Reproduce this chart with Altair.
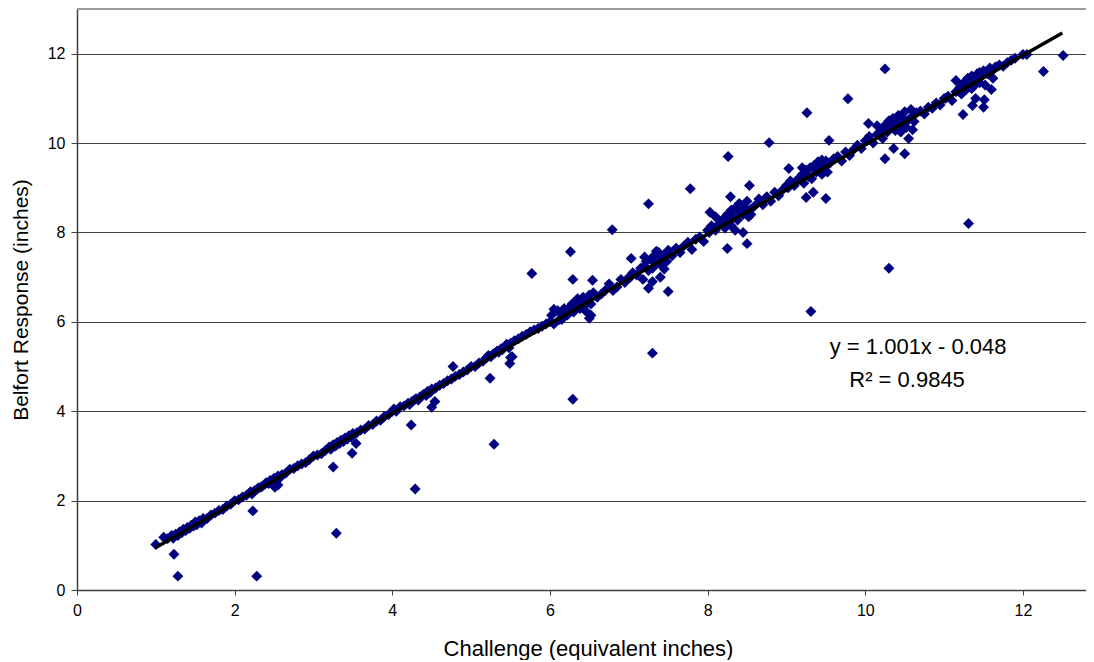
import altair as alt
import pandas as pd

# ---- data ----
challenge = [
    1.00, 1.10, 1.15, 1.20, 1.22, 1.25, 1.28, 1.30, 1.33, 1.35, 1.38, 1.40, 1.43, 1.45, 1.48, 1.50, 1.52, 1.55, 1.58, 1.60, 1.65, 1.70, 1.75, 1.80, 1.85, 1.90, 1.95, 2.00,
    1.23, 1.28,
    2.05, 2.10, 2.15, 2.20, 2.22, 2.25, 2.28, 2.30, 2.33, 2.35, 2.38, 2.40, 2.43, 2.45, 2.48, 2.50, 2.52, 2.55, 2.58, 2.60, 2.65, 2.70, 2.75, 2.80, 2.85, 2.90, 2.95, 3.00,
    2.28, 2.23, 2.51, 2.55,
    3.05, 3.10, 3.15, 3.20, 3.22, 3.25, 3.28, 3.30, 3.33, 3.35, 3.38, 3.40, 3.43, 3.45, 3.48, 3.50, 3.55, 3.60, 3.65, 3.70, 3.75, 3.80, 3.85, 3.90, 3.95, 4.00,
    3.25, 3.29, 3.49, 3.54,
    4.02, 4.05, 4.10, 4.15, 4.20, 4.22, 4.25, 4.28, 4.30, 4.33, 4.35, 4.38, 4.40, 4.43, 4.45, 4.48, 4.50, 4.55, 4.60, 4.65, 4.70, 4.75, 4.80, 4.85, 4.90, 4.95, 5.00,
    4.24, 4.29, 4.50, 4.54, 4.77,
    5.05, 5.10, 5.15, 5.20, 5.22, 5.25, 5.28, 5.30, 5.33, 5.35, 5.38, 5.40, 5.43, 5.45, 5.48, 5.50, 5.55, 5.60, 5.65, 5.70, 5.75, 5.80, 5.85, 5.90, 5.95, 6.00,
    5.77, 5.24, 5.29, 5.49, 5.50, 5.52,
    6.02, 6.05, 6.10, 6.12, 6.15, 6.18, 6.20, 6.22, 6.25, 6.28, 6.30, 6.32, 6.35, 6.38, 6.40, 6.42, 6.45, 6.48, 6.50, 6.52, 6.55, 6.60, 6.65, 6.70, 6.75, 6.80, 6.85, 6.90, 6.95, 7.00,
    6.26, 6.29, 6.29, 6.54, 6.50, 6.52, 6.05, 6.15, 6.35, 6.45,
    7.02, 7.05, 7.10, 7.15, 7.18, 7.20, 7.22, 7.25, 7.28, 7.30, 7.32, 7.35, 7.38, 7.40, 7.42, 7.45, 7.48, 7.50, 7.55, 7.60, 7.65, 7.70, 7.75, 7.80, 7.85, 7.90, 7.95, 8.00,
    7.03, 7.25, 7.30, 7.50, 7.25, 7.78, 6.79, 7.30, 7.40, 7.35, 7.45, 7.20,
    8.02, 8.05, 8.10, 8.15, 8.20, 8.22, 8.25, 8.28, 8.30, 8.32, 8.35, 8.38, 8.40, 8.42, 8.45, 8.48, 8.50, 8.52, 8.55, 8.60, 8.65, 8.70, 8.75, 8.80, 8.85, 8.90, 8.95, 9.00,
    8.26, 8.03, 8.25, 8.50, 8.53, 8.29, 8.45, 8.35, 8.78, 8.10, 8.40, 8.30, 8.55,
    9.02, 9.05, 9.10, 9.15, 9.20, 9.22, 9.25, 9.28, 9.30, 9.32, 9.35, 9.38, 9.40, 9.42, 9.45, 9.48, 9.50, 9.52, 9.55, 9.60, 9.65, 9.70, 9.75, 9.80, 9.85, 9.90, 9.95, 10.00,
    9.26, 9.03, 9.54, 9.50, 9.25, 9.34, 9.31, 9.78, 9.20, 9.40, 9.45,
    10.02, 10.05, 10.10, 10.15, 10.20, 10.22, 10.25, 10.28, 10.30, 10.32, 10.35, 10.38, 10.40, 10.42, 10.45, 10.48, 10.50, 10.52, 10.55, 10.58, 10.60, 10.62, 10.65, 10.70, 10.75, 10.80, 10.85, 10.90, 10.95, 11.00,
    10.25, 10.25, 10.50, 10.36, 10.04, 10.15, 10.30, 10.55, 10.60, 10.40, 10.45, 10.35,
    11.02, 11.05, 11.10, 11.15, 11.20, 11.22, 11.25, 11.28, 11.30, 11.32, 11.35, 11.38, 11.40, 11.42, 11.45, 11.48, 11.50, 11.52, 11.55, 11.58, 11.60, 11.62, 11.65, 11.70, 11.75, 11.80, 11.85, 11.90, 12.00,
    11.15, 11.24, 11.50, 11.36, 11.51, 11.31, 12.05, 12.26, 12.51, 11.40, 11.60, 11.45, 11.35,
]

response = [
    1.02, 1.18, 1.15, 1.22, 1.16, 1.25, 1.22, 1.30, 1.28, 1.36, 1.33, 1.40, 1.38, 1.45, 1.43, 1.52, 1.46, 1.55, 1.50, 1.60, 1.60, 1.68, 1.72, 1.78, 1.80, 1.88, 1.92, 2.00,
    0.80, 0.31,
    2.02, 2.08, 2.12, 2.20, 2.15, 2.22, 2.25, 2.28, 2.30, 2.32, 2.36, 2.40, 2.38, 2.45, 2.42, 2.50, 2.46, 2.55, 2.52, 2.58, 2.62, 2.70, 2.72, 2.78, 2.82, 2.85, 2.92, 3.00,
    0.31, 1.77, 2.30, 2.35,
    3.02, 3.05, 3.12, 3.20, 3.15, 3.25, 3.22, 3.30, 3.28, 3.35, 3.32, 3.40, 3.38, 3.45, 3.42, 3.50, 3.52, 3.58, 3.60, 3.68, 3.70, 3.78, 3.80, 3.88, 3.92, 4.00,
    2.75, 1.27, 3.06, 3.28,
    4.05, 4.00, 4.10, 4.12, 4.18, 4.15, 4.22, 4.25, 4.28, 4.25, 4.32, 4.35, 4.38, 4.35, 4.45, 4.42, 4.50, 4.52, 4.58, 4.62, 4.68, 4.72, 4.78, 4.82, 4.88, 4.92, 5.00,
    3.69, 2.26, 4.09, 4.22, 5.00,
    5.00, 5.08, 5.12, 5.20, 5.25, 5.22, 5.28, 5.30, 5.35, 5.32, 5.40, 5.38, 5.45, 5.50, 5.42, 5.52, 5.58, 5.62, 5.68, 5.72, 5.78, 5.82, 5.85, 5.90, 5.95, 6.00,
    7.08, 4.74, 3.26, 5.07, 5.20, 5.22,
    6.15, 5.95, 6.25, 6.05, 6.20, 6.30, 6.25, 6.15, 6.32, 6.40, 6.22, 6.35, 6.48, 6.30, 6.42, 6.55, 6.38, 6.50, 6.60, 6.40, 6.65, 6.55, 6.62, 6.70, 6.85, 6.70, 6.78, 6.95, 6.88, 7.00,
    7.57, 6.95, 4.27, 6.93, 6.08, 6.15, 6.28, 6.05, 6.52, 6.25,
    7.00, 7.10, 7.05, 7.20, 6.95, 7.25, 7.35, 7.15, 7.40, 7.20, 7.48, 7.30, 7.55, 7.38, 7.25, 7.50, 7.35, 7.60, 7.48, 7.65, 7.55, 7.70, 7.78, 7.62, 7.85, 7.90, 7.80, 8.05,
    7.42, 8.64, 5.30, 6.68, 6.75, 8.98, 8.06, 6.90, 7.00, 7.58, 7.18, 7.45,
    8.00, 8.15, 8.05, 8.20, 8.30, 8.10, 8.40, 8.25, 8.50, 8.35, 8.55, 8.28, 8.45, 8.62, 8.40, 8.55, 8.70, 8.35, 8.52, 8.60, 8.75, 8.62, 8.80, 8.70, 8.90, 8.82, 8.95, 9.05,
    9.70, 8.45, 7.64, 7.75, 9.05, 8.80, 8.00, 8.05, 10.01, 8.35, 8.65, 8.15, 8.40,
    9.00, 9.15, 9.05, 9.20, 9.30, 9.10, 9.40, 9.25, 9.45, 9.20, 9.50, 9.35, 9.55, 9.40, 9.62, 9.48, 9.60, 9.35, 9.55, 9.65, 9.70, 9.60, 9.80, 9.72, 9.85, 9.95, 9.88, 10.05,
    10.68, 9.43, 10.06, 8.76, 8.78, 8.90, 6.23, 10.99, 9.45, 9.58, 9.30,
    10.05, 10.15, 10.00, 10.20, 10.30, 10.10, 10.40, 10.25, 10.50, 10.35, 10.55, 10.28, 10.45, 10.62, 10.40, 10.55, 10.70, 10.35, 10.52, 10.75, 10.60, 10.48, 10.68, 10.72, 10.65, 10.80, 10.78, 10.90, 10.85, 11.00,
    11.66, 9.65, 9.76, 9.88, 10.44, 10.39, 7.20, 10.10, 10.30, 10.58, 10.25, 10.48,
    11.00, 11.05, 10.95, 11.15, 11.25, 11.10, 11.35, 11.20, 11.45, 11.30, 11.50, 11.28, 11.40, 11.55, 11.35, 11.50, 11.62, 11.30, 11.55, 11.68, 11.60, 11.45, 11.70, 11.75, 11.72, 11.80, 11.85, 11.90, 11.98,
    11.40, 10.64, 10.80, 10.84, 10.97, 8.20, 11.98, 11.60, 11.96, 11.00, 11.20, 11.58, 11.22,
]

trend_x = [1.0, 12.5]
trend_y = [0.953, 12.465]

label_lines = ["y = 1.001x - 0.048", "R² = 0.9845"]
label_x = [10.67, 10.53]
label_y = [5.43, 4.69]

x_ticks = [0, 2, 4, 6, 8, 10, 12]
y_ticks = [0, 2, 4, 6, 8, 10, 12]

FONT = "Liberation Sans"
W, H = 1009, 581

pts = pd.DataFrame({"x": challenge, "y": response})
trend = pd.DataFrame({"x": trend_x, "y": trend_y})
labels = pd.DataFrame({"x": label_x, "y": label_y, "t": label_lines})

xscale = alt.Scale(domain=[0, 12.8], nice=False, zero=False)
yscale = alt.Scale(domain=[0, 13], nice=False, zero=False)

xaxis = alt.Axis(
    values=x_ticks, format="d", labelFlush=False, grid=False,
    title="Challenge (equivalent inches)",
    domainColor="#404040", domainWidth=1.5, tickColor="#404040", tickSize=5,
    labelFont=FONT, labelFontSize=16, labelColor="black", labelPadding=7,
    titleFont=FONT, titleFontSize=22, titleFontWeight="normal", titleColor="black",
    titleX=511, titleY=58, titleBaseline="middle", titleAlign="center",
)
yaxis = alt.Axis(
    values=y_ticks, format="d", labelFlush=False, grid=True, gridColor="#404040", gridWidth=1,
    title="Belfort Response (inches)",
    domainColor="#404040", domainWidth=1.5, tickColor="#404040", tickSize=6,
    labelFont=FONT, labelFontSize=16, labelColor="black", labelPadding=6,
    titleFont=FONT, titleFontSize=21, titleFontWeight="normal", titleColor="black",
    titleX=-56, titleY=H / 2, titleAngle=270, titleBaseline="middle", titleAlign="center",
)

points = alt.Chart(pts).mark_point(
    shape="diamond", filled=True, size=120, color="#000080", opacity=1
).encode(
    x=alt.X("x:Q", scale=xscale, axis=xaxis),
    y=alt.Y("y:Q", scale=yscale, axis=yaxis),
)

line = alt.Chart(trend).mark_line(color="black", strokeWidth=3.5).encode(
    x=alt.X("x:Q", scale=xscale), y=alt.Y("y:Q", scale=yscale)
)

text = alt.Chart(labels).mark_text(
    font=FONT, fontSize=22, color="black", align="center", baseline="middle"
).encode(
    x=alt.X("x:Q", scale=xscale), y=alt.Y("y:Q", scale=yscale), text="t:N"
)

top_border = alt.Chart(pd.DataFrame({"y": [13]})).mark_rule(color="#808080", strokeWidth=1.5).encode(
    y=alt.Y("y:Q", scale=yscale)
)

chart = alt.layer(top_border, points, line, text).properties(
    width=W, height=H,
    autosize=alt.AutoSizeParams(type="none"),
    padding={"left": 69, "top": 1, "right": 0, "bottom": 70},
).configure_view(stroke=None).configure(background="white")

chart.save("out.html", embed_options={"renderer": "svg", "actions": False})
